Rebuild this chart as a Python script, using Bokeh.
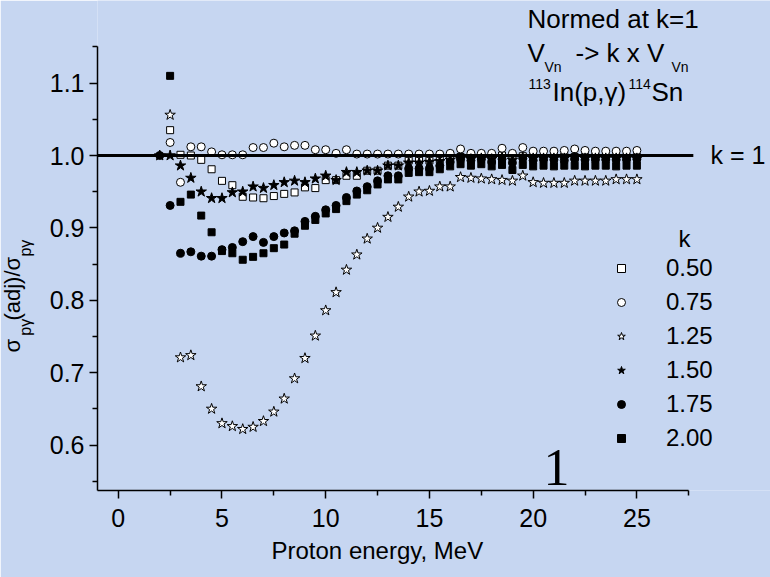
import numpy as np
from bokeh.plotting import figure
from bokeh.models import Label, Legend, LegendItem, Range1d, FixedTicker, NumeralTickFormatter, Title
from bokeh.embed import file_html
from bokeh.resources import INLINE

nan = float("nan")

# Proton energy grid (MeV)
energy = [2.0, 2.5, 3.0, 3.5, 4.0, 4.5, 5.0, 5.5, 6.0, 6.5, 7.0, 7.5, 8.0, 8.5, 9.0, 9.5,
          10.0, 10.5, 11.0, 11.5, 12.0, 12.5, 13.0, 13.5, 14.0, 14.5, 15.0, 15.5, 16.0, 16.5,
          17.0, 17.5, 18.0, 18.5, 19.0, 19.5, 20.0, 20.5, 21.0, 21.5, 22.0, 22.5, 23.0, 23.5,
          24.0, 24.5, 25.0]

k_050 = [nan, 1.035, 1.001, 1.000, 0.994, 0.981, 0.965, 0.959, 0.943, 0.942, 0.941, 0.944,
         0.947, 0.949, 0.956, 0.955, 0.966, 0.966, 0.972, 0.972, 0.979, 0.979, 0.986, 0.986,
         0.993, 0.993, 0.993, 0.994, 0.997, 0.998, 0.997, 0.998, 0.997, 1.000, 0.998, 0.999,
         0.998, 0.997, 0.998, 0.999, 0.998, 0.998, 0.999, 0.998, 0.998, 0.998, 0.998]
k_075 = [nan, 1.018, 0.963, 1.012, 1.012, 1.005, 1.001, 1.001, 1.001, 1.011, 1.011, 1.017,
         1.012, 1.014, 1.014, 1.008, 1.008, 1.003, 1.008, 1.002, 1.002, 1.002, 1.002, 1.002,
         1.002, 1.002, 1.002, 1.002, 1.003, 1.009, 1.003, 1.003, 1.003, 1.010, 1.003, 1.011,
         1.006, 1.006, 1.006, 1.007, 1.009, 1.007, 1.006, 1.006, 1.006, 1.006, 1.007]
k_125 = [nan, 1.056, 0.721, 0.724, 0.681, 0.650, 0.630, 0.626, 0.622, 0.625, 0.633, 0.646,
         0.664, 0.692, 0.720, 0.751, 0.786, 0.811, 0.842, 0.863, 0.885, 0.900, 0.915, 0.929,
         0.943, 0.950, 0.951, 0.957, 0.957, 0.970, 0.969, 0.968, 0.967, 0.966, 0.965, 0.972,
         0.963, 0.962, 0.962, 0.962, 0.965, 0.965, 0.965, 0.965, 0.967, 0.967, 0.967]
k_150 = [1.000, 1.000, 0.986, 0.969, 0.950, 0.941, 0.941, 0.949, 0.950, 0.957, 0.955, 0.959,
         0.963, 0.965, 0.963, 0.968, 0.972, 0.966, 0.977, 0.977, 0.979, 0.979, 0.986, 0.986,
         0.990, 0.990, 0.991, 0.992, 0.994, 0.996, 0.995, 0.996, 0.995, 0.997, 0.994, 0.997,
         0.996, 0.996, 0.996, 0.996, 0.997, 0.996, 0.996, 0.996, 0.996, 0.996, 0.996]
k_175 = [1.000, 0.931, 0.865, 0.867, 0.861, 0.861, 0.870, 0.873, 0.881, 0.888, 0.880, 0.888,
         0.893, 0.896, 0.909, 0.916, 0.925, 0.931, 0.942, 0.951, 0.957, 0.965, 0.972, 0.972,
         0.982, 0.982, 0.982, 0.986, 0.991, 0.995, 0.993, 0.995, 0.991, 0.995, 0.990, 0.996,
         0.993, 0.994, 0.994, 0.993, 0.995, 0.994, 0.994, 0.994, 0.994, 0.994, 0.995]
k_200 = [nan, 1.110, 0.936, 0.946, 0.917, 0.894, 0.868, 0.865, 0.856, 0.860, 0.865, 0.872,
         0.877, 0.892, 0.903, 0.911, 0.920, 0.926, 0.937, 0.946, 0.952, 0.960, 0.967, 0.967,
         0.976, 0.977, 0.977, 0.981, 0.985, 0.988, 0.986, 0.988, 0.985, 0.987, 0.980, 0.987,
         0.985, 0.986, 0.985, 0.986, 0.986, 0.985, 0.986, 0.986, 0.985, 0.986, 0.986]

k_labels = ["0.50", "0.75", "1.25", "1.50", "1.75", "2.00"]
x_ticks = [0, 5, 10, 15, 20, 25]
x_minor = [2.5, 7.5, 12.5, 17.5, 22.5, 27.5]
y_ticks = [0.6, 0.7, 0.8, 0.9, 1.0, 1.1]
y_minor = [0.55, 0.65, 0.75, 0.85, 0.95, 1.05, 1.15]

# axis extents and reference (k = 1) line
X_MIN, X_AXIS_END, X_LINE_END, X_VIEW_END = -1.0, 27.5, 27.72, 31.44
Y_MIN, Y_AXIS_END, Y_VIEW_END = 0.5373, 1.1506, 1.2141
REF_VALUE = 1.0

BG = "#c6d6f1"
FONT = "Liberation Sans"
W, H = 770, 577
FL, FB = 97, 490   # frame left / bottom in canvas px
NB = "\u00a0"

p = figure(width=W, height=H, output_backend="svg", toolbar_location=None,
           x_range=Range1d(X_MIN, X_VIEW_END), y_range=Range1d(Y_MIN, Y_VIEW_END),
           min_border_left=FL, min_border_right=0, min_border_top=0, min_border_bottom=H - FB)
p.background_fill_color = BG
p.border_fill_color = BG
p.outline_line_color = None
p.grid.visible = False

for ax in (p.xaxis[0], p.yaxis[0]):
    ax.axis_line_width = 1.5
    ax.axis_line_color = "black"
    ax.major_tick_line_color = "black"
    ax.minor_tick_line_color = "black"
    ax.major_tick_line_width = 1.5
    ax.minor_tick_line_width = 1.5
    ax.major_tick_in = 0
    ax.major_tick_out = 8
    ax.minor_tick_in = 0
    ax.minor_tick_out = 5
    ax.major_label_text_font = FONT
    ax.major_label_text_font_size = "25px"
    ax.major_label_text_color = "black"

p.xaxis.bounds = (X_MIN, X_AXIS_END)
p.xaxis.ticker = FixedTicker(ticks=x_ticks, minor_ticks=x_minor)
p.xaxis.formatter = NumeralTickFormatter(format="0")
p.xaxis.major_label_standoff = 10
p.yaxis.bounds = (Y_MIN, Y_AXIS_END)
p.yaxis.ticker = FixedTicker(ticks=y_ticks, minor_ticks=y_minor)
p.yaxis.formatter = NumeralTickFormatter(format="0.0")
p.yaxis.major_label_standoff = 5
# subscripts of the y title live in the axis label (nearest the axis)
p.yaxis.axis_label = "p\u03b3" + NB * 14 + "p\u03b3" + NB * 19
p.yaxis.axis_label_text_font = FONT
p.yaxis.axis_label_text_font_size = "16px"
p.yaxis.axis_label_text_font_style = "normal"
p.yaxis.axis_label_text_color = "black"
p.yaxis.axis_label_standoff = 13

e = np.array(energy)
styles = [
    (k_050, "square", 7, "white"),
    (k_075, "circle", 8, "white"),
    (k_125, "star", 11, "white"),
    (k_150, "star", 11, "black"),
    (k_175, "circle", 8, "black"),
    (k_200, "square", 7, "black"),
]
renderers = []
for vals, mk, sz, fc in styles:
    r = p.scatter(e, np.array(vals), marker=mk, size=sz, fill_color=fc,
                  line_color="black", line_width=1)
    renderers.append(r)

# normalisation line k = 1
p.line([X_MIN, X_LINE_END], [REF_VALUE, REF_VALUE], line_color="black", line_width=3)

legend = Legend(items=[LegendItem(label=lab, renderers=[r]) for lab, r in zip(k_labels, renderers)],
                location=(586 - FL, 38.5), glyph_width=70, glyph_height=20,
                label_standoff=10, label_height=20, spacing=6, padding=0, margin=0,
                border_line_color=None, background_fill_alpha=0,
                label_text_font=FONT, label_text_font_size="24px", label_text_color="black")
p.add_layout(legend)


def lab(text, X, Y, size, font=FONT, **kw):
    # X, Y: canvas px of the text baseline start
    return Label(x=X - FL, y=FB - (Y - 0.38 * size), x_units="screen", y_units="screen", text=text,
                 text_font=font, text_font_size=f"{size}px", text_color="black",
                 text_baseline="alphabetic", **kw)


labels = [
    lab("Normed at k=1", 527, 28, 26),
    lab("V", 527, 62, 26), lab("Vn", 544, 72, 14),
    lab("-> k x V", 575, 62, 26), lab("Vn", 671, 72, 14),
    lab("113", 528, 89, 14), lab("In(p,\u03b3)", 552, 101, 26),
    lab("114", 628, 89, 14), lab("Sn", 651, 101, 26),
    lab("k = 1", 710, 164, 25),
    lab("k", 678, 247, 24),
    lab("1", 556, 487, 52, font="Liberation Serif", text_align="center"),
]
for l in labels:
    p.add_layout(l)

# main part of the y title, pulled over the subscripts with a negative standoff
p.add_layout(Title(text="\u03c3" + NB * 3 + "(adj)/\u03c3", align="left", offset=138,
                   text_font=FONT, text_font_size="22px", text_font_style="normal",
                   text_color="black", standoff=-22), "left")
# x-axis title
p.add_layout(Title(text="Proton energy, MeV", align="left", offset=174,
                   text_font=FONT, text_font_size="24px", text_font_style="normal",
                   text_color="black", standoff=10), "below")

open("out.html", "w").write(file_html(p, INLINE))
